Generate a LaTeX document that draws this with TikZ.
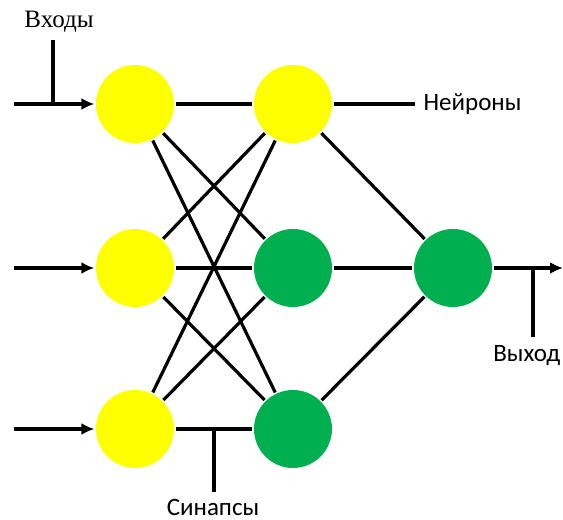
\documentclass[tikz,border=0pt]{standalone}
\usepackage{fontspec}
\setmainfont{Liberation Serif}
\newfontfamily\labelfont{Carlito}
\usetikzlibrary{positioning,arrows.meta}
\definecolor{nyellow}{RGB}{255,255,0}
\definecolor{ngreen}{RGB}{0,176,80}

\begin{document}
\begin{tikzpicture}[x=1pt,y=-1pt,line width=3.2pt,>={Latex[length=13pt,width=12pt]},
	neuron/.style={circle,minimum size=78pt,inner sep=0pt},
	lbl/.style={font=\labelfont\fontsize{25}{27}\selectfont,inner sep=0pt}]
	\useasboundingbox (0,0) rectangle (563,520);
	
	\node[neuron,fill=nyellow] (a1) at (135,104) {};
	\node[neuron,fill=nyellow] (a2) at (135,268) {};
	\node[neuron,fill=nyellow] (a3) at (135,429) {};
	\node[neuron,fill=nyellow] (b1) at (293,104) {};
	\node[neuron,fill=ngreen] (b2) at (293,268) {};
	\node[neuron,fill=ngreen] (b3) at (293,429) {};
	\node[neuron,fill=ngreen] (c) at (453,268) {};
	
	\foreach \i in {1,2,3}
	\foreach \j in {1,2,3}
	\draw (a\i) -- (b\j);
	\foreach \j in {1,2,3}
	\draw (b\j) -- (c);
	
	\coordinate (s1) at (14,104);
	\coordinate (s2) at (14,268);
	\coordinate (s3) at (14,429);
	\foreach \i in {1,2,3}
	\draw[->] (s\i) -- (a\i);
	
	\coordinate (e) at (563,268);
	\draw[->] (c) -- (e);
	
	% labels
	\node[font=\fontsize{25}{27}\selectfont,inner sep=0pt] (inp) at (59,22) {Входы};
	\coordinate (inpt) at (53,104);
	\coordinate (inpe) at (53,40);
	\draw (inpe) -- (inpt);
	\coordinate (hn) at (415,104);
	\draw (b1) -- (hn);
	\node[lbl,right=7pt of hn] (neur) {Нейроны};
	\coordinate (syn) at (214,429);
	\coordinate (syne) at (214,492);
	\draw (syn) -- (syne);
	\node[lbl] (synl) at (213,507) {Синапсы};
	\coordinate (outp) at (533,268);
	\coordinate (oute) at (533,337);
	\draw (outp) -- (oute);
	\node[lbl,anchor=east] (outl) at (562,356) {Выход};
\end{tikzpicture}
\end{document}
